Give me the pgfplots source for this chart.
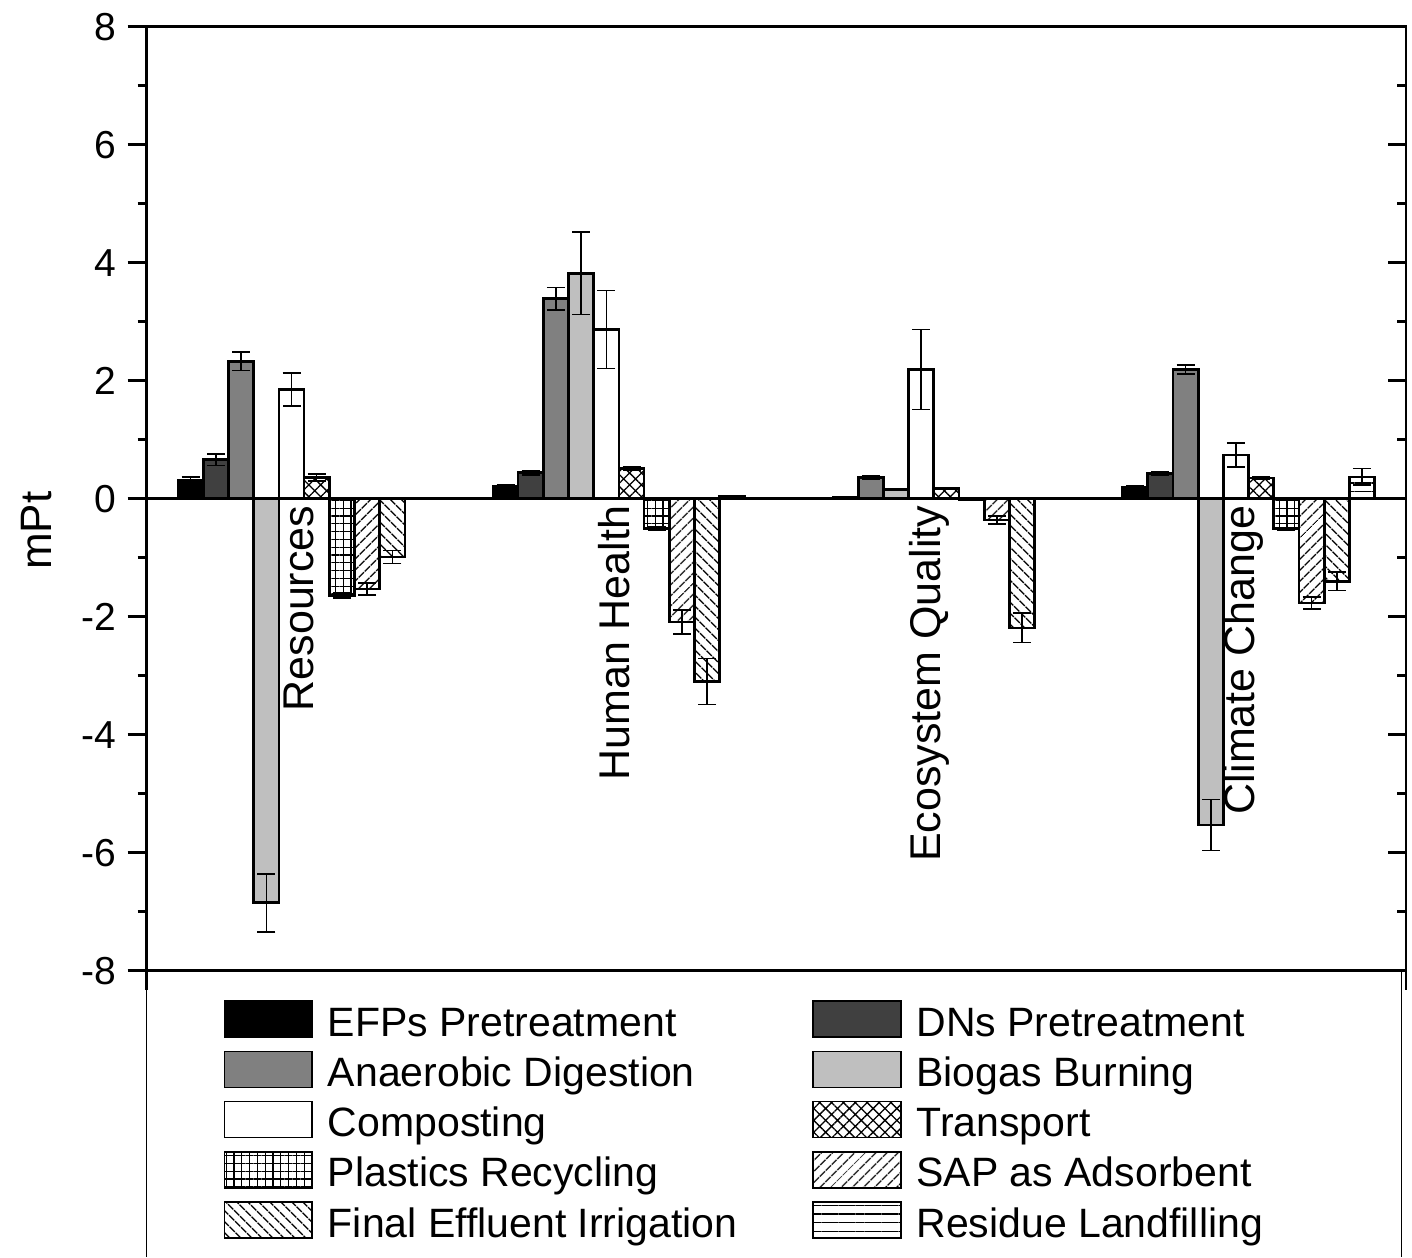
\documentclass[border=0pt]{standalone}
\usepackage{fontspec}
\setmainfont{Liberation Sans}
\usepackage{pgfplots}
\pgfplotsset{compat=1.18}
\usetikzlibrary{patterns.meta}

\pgfplotsset{
  mylegend/.style={legend image code/.code={\draw[##1,line width=0.75pt] (0pt,-5.75pt) rectangle (43.85pt,12.25pt);}},
  barbase/.style={draw=black, line width=1.35pt, mylegend,
    error bars/y dir=both, error bars/y explicit,
    error bars/error bar style={line width=0.75pt, black, solid},
    error bars/error mark options={rotate=90, mark size=4.5pt, line width=0.75pt, black}},
}

\begin{document}
\begin{tikzpicture}
\path[use as bounding box] (0pt,0pt) rectangle (706pt,628.5pt);
\begin{axis}[
  at={(73.35pt,143.15pt)}, anchor=south west,
  scale only axis, width=629.65pt, height=472pt,
  xmin=0.5, xmax=4.5, ymin=-8, ymax=8,
  ybar=0pt, bar width=12.6pt,
  axis line style={line width=1.4pt},
  tick style={line width=1.4pt, black},
  tick align=outside,
  xtick={0.5,4.5}, xticklabels={}, xtick pos=left,
  ytick={-8,-6,...,8}, minor y tick num=1, ytick pos=left,
  major tick length=9.5pt, minor tick length=4.5pt,
  yticklabel style={font=\fontsize{19.5}{23}\selectfont, xshift=-2pt},
  /pgf/number format/assume math mode=true,
  ylabel={mPt},
  ylabel style={font=\fontsize{22}{26}\selectfont, at={(ticklabel cs:0.466,8pt)}},
  legend columns=2,
  legend cell align=left,
  legend style={at={(axis description cs:0.0608,-0.031)}, anchor=north west,
    draw=none, fill=none, inner xsep=0pt, inner ysep=0pt,
    font=\fontsize{20.5}{24}\selectfont,
    nodes={inner sep=0pt, text height=15pt, text depth=4.5pt},
    row sep=2.75pt,
    /tikz/every odd column/.append style={column sep=7.5pt},
    /tikz/every even column/.append style={column sep=37.5pt}},
]
\addplot[barbase, fill=black] coordinates {(1,0.31) +- (0,0.06) (2,0.21) +- (0,0.03) (3,0.01) +- (0,0) (4,0.19) +- (0,0.03)};
\addlegendentry{EFPs Pretreatment}
\addplot[barbase, fill=black!75] coordinates {(1,0.66) +- (0,0.1) (2,0.44) +- (0,0.04) (3,0.03) +- (0,0.005) (4,0.43) +- (0,0.03)};
\addlegendentry{DNs Pretreatment}
\addplot[barbase, fill=black!50] coordinates {(1,2.33) +- (0,0.155) (2,3.39) +- (0,0.19) (3,0.36) +- (0,0.03) (4,2.19) +- (0,0.08)};
\addlegendentry{Anaerobic Digestion}
\addplot[barbase, fill=black!25] coordinates {(1,-6.85) +- (0,0.49) (2,3.82) +- (0,0.7) (3,0.15) +- (0,0) (4,-5.53) +- (0,0.43)};
\addlegendentry{Biogas Burning}
\addplot[barbase, fill=white] coordinates {(1,1.85) +- (0,0.28) (2,2.87) +- (0,0.66) (3,2.19) +- (0,0.68) (4,0.74) +- (0,0.2)};
\addlegendentry{Composting}
\addplot[barbase, fill=white, postaction={pattern={Hatch[angle=45,distance=4.2pt,line width=0.65pt]}}] coordinates {(1,0.36) +- (0,0.06) (2,0.51) +- (0,0.03) (3,0.17) +- (0,0.01) (4,0.35) +- (0,0.02)};
\addlegendentry{Transport}
\addplot[barbase, fill=white, postaction={pattern={Hatch[angle=0,distance=3.9pt,line width=0.65pt]}}] coordinates {(1,-1.64) +- (0,0.04) (2,-0.51) +- (0,0.03) (3,-0.01) +- (0,0) (4,-0.51) +- (0,0.02)};
\addlegendentry{Plastics Recycling}
\addplot[barbase, fill=white, postaction={pattern={Lines[angle=45,distance=4pt,line width=0.7pt]}}] coordinates {(1,-1.53) +- (0,0.1) (2,-2.09) +- (0,0.2) (3,-0.36) +- (0,0.07) (4,-1.77) +- (0,0.1)};
\addlegendentry{SAP as Adsorbent}
\addplot[barbase, fill=white, postaction={pattern={Lines[angle=-45,distance=4pt,line width=0.7pt]}}] coordinates {(1,-0.99) +- (0,0.11) (2,-3.1) +- (0,0.39) (3,-2.19) +- (0,0.25) (4,-1.4) +- (0,0.16)};
\addlegendentry{Final Effluent Irrigation}
\addplot[barbase, fill=white, postaction={pattern={Lines[angle=0,distance=4.3pt,line width=0.7pt]}}] coordinates {(1,0.01) +- (0,0) (2,0.04) +- (0,0.01) (3,0.0) +- (0,0) (4,0.37) +- (0,0.14)};
\addlegendentry{Residue Landfilling}
\draw[line width=1.5pt] (axis cs:0.5,0) -- (axis cs:4.5,0);
\begin{scope}[every node/.style={rotate=90, anchor=east, font=\fontsize{21.5}{25}\selectfont}]
\node at (axis cs:0.985,0) {Resources};
\node at (axis cs:1.985,0) {Human Health};
\node at (axis cs:2.985,0) {Ecosystem Quality};
\node at (axis cs:3.985,0) {Climate Change};
\end{scope}
\end{axis}
\begin{axis}[
  at={(73.35pt,143.15pt)}, anchor=south west,
  scale only axis, width=629.65pt, height=472pt,
  xmin=0.5, xmax=4.5, ymin=-8, ymax=8,
  axis x line=none, axis y line*=right,
  axis line style={line width=1.4pt},
  tick style={line width=1.4pt, black},
  tick align=inside,
  ytick={-8,-6,...,8}, minor y tick num=1, yticklabels={},
  major tick length=9pt, minor tick length=4.5pt,
]
\end{axis}
\draw[line width=0.75pt] (73.35pt,143.15pt) -- (73.35pt,0pt);
\draw[line width=0.75pt] (700.85pt,143.15pt) -- (700.85pt,0pt);
\end{tikzpicture}
\end{document}
